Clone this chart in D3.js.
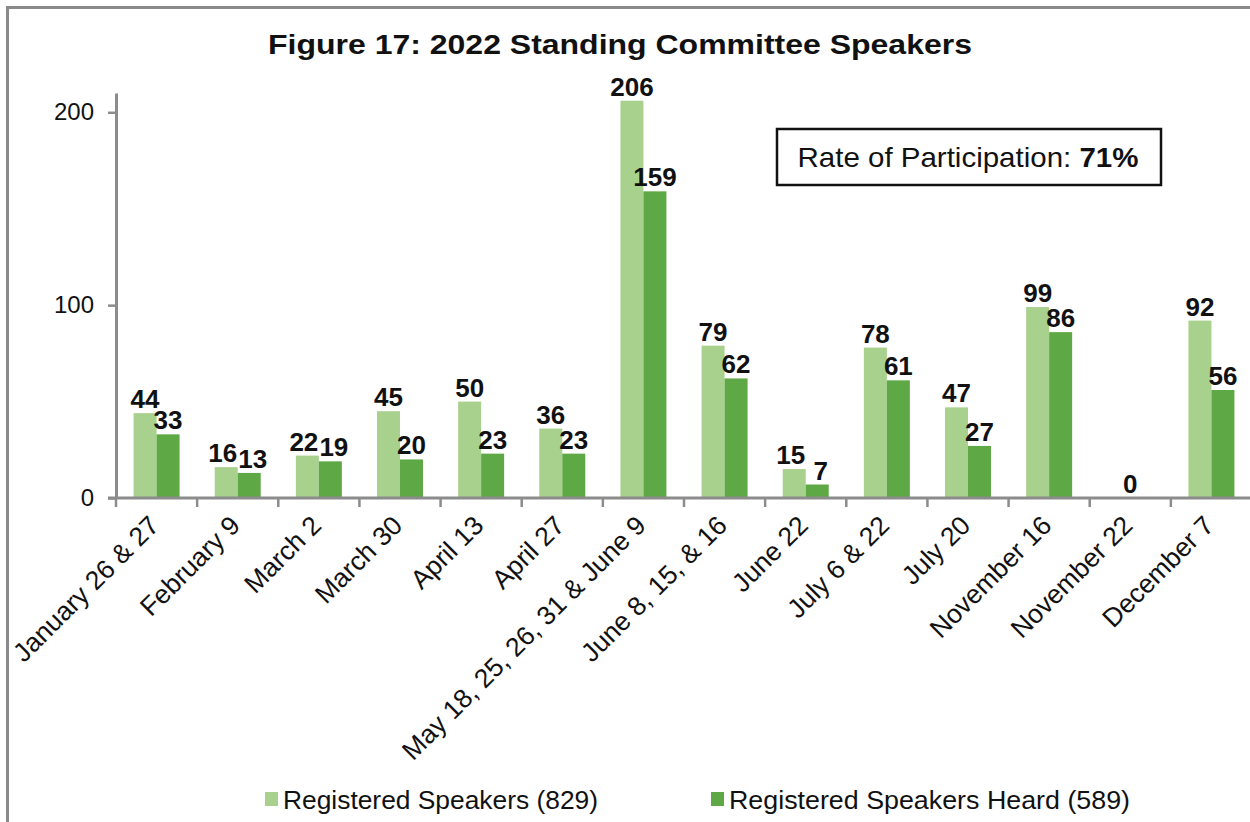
<!DOCTYPE html>
<html>
<head>
<meta charset="utf-8">
<script src="https://cdn.jsdelivr.net/npm/d3@7"></script>
<style>
  html, body { margin: 0; padding: 0; background: #fff; }
  svg { display: block; font-family: "Liberation Sans", Arial, sans-serif; }
</style>
</head>
<body>
<svg id="chart" width="1250" height="822"></svg>
<script>
// Meeting dates (categories)
const meetings = [
  "January 26 & 27", "February 9", "March 2", "March 30", "April 13", "April 27",
  "May 18, 25, 26, 31 & June 9", "June 8, 15, & 16", "June 22", "July 6 & 22",
  "July 20", "November 16", "November 22", "December 7"
];
// Series values
const registered = [44, 16, 22, 45, 50, 36, 206, 79, 15, 78, 47, 99, 0, 92];
const heard      = [33, 13, 19, 20, 23, 23, 159, 62, 7, 61, 27, 86, 0, 56];
// Axis ticks
const yTicks = [0, 100, 200];
// Legend and annotation text
const seriesNames = ["Registered Speakers (829)", "Registered Speakers Heard (589)"];
const titleText = "Figure 17: 2022 Standing Committee Speakers";
const rateLabel = "Rate of Participation: ";
const rateValue = "71%";

const colors = ["#a9d18e", "#5ea845"];
const axisGray = "#8c8c8c";

const svg = d3.select("#chart");

// outer frame
svg.append("rect")
  .attr("x", 7.5).attr("y", 7.5)
  .attr("width", 1260).attr("height", 830)
  .attr("fill", "none").attr("stroke", "#8a8a8a").attr("stroke-width", 3);

// title
svg.append("text")
  .attr("x", 620).attr("y", 54)
  .attr("text-anchor", "middle")
  .attr("font-size", 28).attr("font-weight", "bold")
  .attr("textLength", 704).attr("lengthAdjust", "spacingAndGlyphs")
  .attr("fill", "#111")
  .text(titleText);

const x0 = 116, x1 = 1252, yTop = 93, yBase = 498;

const x = d3.scaleBand().domain(meetings).range([x0, x1]).paddingInner(0).paddingOuter(0);
const y = d3.scaleLinear().domain([0, 210]).range([yBase, yTop]);

const barW = 23;

// bars
const g = svg.append("g");
meetings.forEach((m, i) => {
  const cx = x(m) + x.bandwidth() / 2;
  [registered[i], heard[i]].forEach((v, s) => {
    const bx = s === 0 ? cx - barW : cx;
    g.append("rect")
      .attr("x", bx).attr("y", y(v))
      .attr("width", barW).attr("height", yBase - y(v))
      .attr("fill", colors[s]);
  });
});

// value labels (pairs at nearly the same height are nudged apart)
const labelSize = 26;
meetings.forEach((m, i) => {
  const cx = x(m) + x.bandwidth() / 2;
  const vals = [registered[i], heard[i]];
  if (vals[0] === 0 && vals[1] === 0) {
    svg.append("text")
      .attr("x", cx).attr("y", y(0) - 5)
      .attr("text-anchor", "middle")
      .attr("font-size", labelSize).attr("font-weight", "bold").attr("fill", "#111")
      .text(0);
    return;
  }
  const close = Math.abs(y(vals[0]) - y(vals[1])) < labelSize * 0.75;
  const nudge = close ? 3.5 : 0;
  vals.forEach((v, s) => {
    const bx = s === 0 ? cx - barW / 2 - nudge : cx + barW / 2 + nudge;
    svg.append("text")
      .attr("x", bx).attr("y", y(v) - 5)
      .attr("text-anchor", "middle")
      .attr("font-size", labelSize).attr("font-weight", "bold").attr("fill", "#111")
      .text(v);
  });
});

// y axis
const yAxis = d3.axisLeft(y).tickValues(yTicks).tickSize(8).tickSizeOuter(0).tickPadding(14);
const yg = svg.append("g").attr("transform", `translate(${x0},0)`).call(yAxis);
yg.select(".domain").attr("stroke", axisGray).attr("stroke-width", 3);
yg.selectAll(".tick line").attr("stroke", axisGray).attr("stroke-width", 2.5);
yg.selectAll(".tick text").attr("font-size", 24).attr("fill", "#111")
  .attr("font-family", "Liberation Sans, Arial, sans-serif");

// x axis line with ticks at category boundaries
svg.append("line")
  .attr("x1", x0 - 8).attr("x2", x1)
  .attr("y1", yBase).attr("y2", yBase)
  .attr("stroke", axisGray).attr("stroke-width", 3);
const boundaries = meetings.map(m => x(m)).concat([x1]);
svg.append("g").selectAll("line").data(boundaries).join("line")
  .attr("x1", d => d).attr("x2", d => d)
  .attr("y1", yBase).attr("y2", yBase + 9)
  .attr("stroke", axisGray).attr("stroke-width", 2.5);

// rotated category labels
svg.append("g").selectAll("text").data(meetings).join("text")
  .attr("transform", d => `translate(${x(d) + x.bandwidth() / 2 + 4},${yBase + 29}) rotate(-45)`)
  .attr("text-anchor", "end")
  .attr("font-size", 26.5).attr("fill", "#111")
  .text(d => d);

// participation rate box
svg.append("rect")
  .attr("x", 777).attr("y", 129)
  .attr("width", 384).attr("height", 56)
  .attr("fill", "#fff").attr("stroke", "#111").attr("stroke-width", 2.5);
const rt = svg.append("text")
  .attr("x", 968).attr("y", 167)
  .attr("text-anchor", "middle")
  .attr("font-size", 28).attr("fill", "#111")
  .attr("textLength", 341).attr("lengthAdjust", "spacingAndGlyphs");
rt.append("tspan").text(rateLabel);
rt.append("tspan").attr("font-weight", "bold").text(rateValue);

// legend
const legendX = [265, 711];
const legendLen = [315, 401];
seriesNames.forEach((name, s) => {
  svg.append("rect")
    .attr("x", legendX[s]).attr("y", 792)
    .attr("width", 13).attr("height", 14)
    .attr("fill", colors[s]);
  svg.append("text")
    .attr("x", legendX[s] + 18).attr("y", 809)
    .attr("font-size", 25).attr("fill", "#111")
    .attr("textLength", legendLen[s]).attr("lengthAdjust", "spacingAndGlyphs")
    .text(name);
});
</script>
</body>
</html>
